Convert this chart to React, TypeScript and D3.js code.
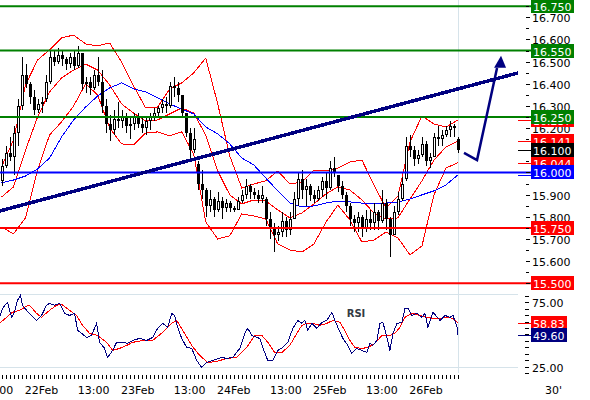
import React from 'react';
import * as d3 from 'd3';

// ---- OHLC bars (hourly, index 0 = 21Feb 14:00) ----
const opens = [15.96,16.03,16.09,16.07,16.18,16.30,16.44,16.40,16.34,16.28,16.31,16.33,16.41,16.52,16.50,16.53,16.51,16.49,16.52,16.48,16.54,16.40,16.41,16.38,16.44,16.41,16.30,16.22,16.19,16.24,16.23,16.25,16.21,16.22,16.25,16.22,16.20,16.23,16.25,16.27,16.29,16.31,16.30,16.39,16.38,16.35,16.27,16.18,16.10,16.04,15.95,15.92,15.85,15.88,15.83,15.87,15.84,15.86,15.84,15.83,15.87,15.90,15.94,15.91,15.90,15.88,15.88,15.79,15.75,15.72,15.73,15.78,15.74,15.79,15.88,15.97,15.92,15.94,15.90,15.88,15.92,15.96,15.93,16.02,15.99,15.94,15.90,15.85,15.79,15.77,15.80,15.75,15.79,15.77,15.82,15.78,15.86,15.79,15.72,15.82,15.88,15.97,16.12,16.10,16.06,16.08,16.13,16.05,16.07,16.16,16.15,16.17,16.19,16.21,16.15];
const highs = [16.06,16.12,16.16,16.21,16.33,16.52,16.49,16.41,16.37,16.33,16.34,16.44,16.55,16.55,16.56,16.55,16.52,16.54,16.55,16.57,16.54,16.43,16.43,16.46,16.52,16.46,16.33,16.26,16.28,16.32,16.28,16.27,16.25,16.27,16.27,16.25,16.25,16.27,16.29,16.30,16.33,16.34,16.41,16.43,16.41,16.35,16.27,16.20,16.20,16.05,16.01,15.93,15.92,15.89,15.91,15.89,15.88,15.87,15.85,15.89,15.92,15.97,15.95,15.93,15.92,15.94,15.89,15.82,15.77,15.76,15.82,15.80,15.82,15.91,16.00,16.01,15.97,15.95,15.92,15.94,15.98,16.00,16.05,16.07,15.99,15.96,15.91,15.86,15.81,15.82,15.81,15.83,15.83,15.86,15.83,15.92,15.88,15.80,15.85,15.91,15.98,16.16,16.17,16.12,16.10,16.16,16.14,16.09,16.18,16.21,16.19,16.21,16.23,16.22,16.16];
const lows = [15.94,16.02,16.05,15.99,16.12,16.28,16.38,16.31,16.26,16.27,16.27,16.32,16.40,16.48,16.49,16.48,16.46,16.47,16.46,16.47,16.37,16.36,16.35,16.37,16.39,16.27,16.18,16.14,16.17,16.20,16.20,16.18,16.15,16.19,16.20,16.18,16.17,16.19,16.23,16.25,16.27,16.27,16.29,16.34,16.32,16.25,16.16,16.06,16.09,15.92,15.88,15.80,15.82,15.80,15.82,15.79,15.82,15.82,15.82,15.83,15.86,15.88,15.88,15.88,15.86,15.86,15.76,15.70,15.64,15.69,15.71,15.71,15.72,15.79,15.85,15.88,15.85,15.87,15.86,15.87,15.89,15.88,15.92,15.98,15.91,15.88,15.82,15.76,15.73,15.73,15.71,15.73,15.74,15.74,15.74,15.77,15.74,15.62,15.72,15.81,15.87,15.96,16.07,16.03,16.04,16.07,16.03,16.02,16.07,16.12,16.12,16.16,16.16,16.16,16.09];
const closes = [16.03,16.09,16.07,16.18,16.30,16.44,16.40,16.34,16.28,16.31,16.32,16.41,16.52,16.50,16.53,16.51,16.49,16.52,16.48,16.54,16.40,16.41,16.38,16.44,16.41,16.30,16.22,16.19,16.24,16.23,16.25,16.21,16.22,16.25,16.22,16.20,16.23,16.25,16.27,16.29,16.31,16.30,16.39,16.38,16.35,16.27,16.18,16.10,16.15,15.95,15.92,15.85,15.88,15.83,15.87,15.84,15.86,15.84,15.83,15.87,15.90,15.94,15.91,15.90,15.88,15.90,15.79,15.75,15.72,15.73,15.78,15.74,15.79,15.88,15.97,15.92,15.94,15.90,15.88,15.92,15.96,15.93,16.02,16.00,15.94,15.90,15.85,15.79,15.77,15.80,15.75,15.79,15.77,15.82,15.78,15.86,15.79,15.72,15.82,15.88,15.95,16.12,16.10,16.06,16.08,16.13,16.05,16.07,16.16,16.15,16.17,16.19,16.21,16.20,16.10];

// ---- Bollinger bands & moving average, read at these bar indices ----
const bandIdx = [0,3,6,9,12,15,18,21,24,27,30,33,36,39,42,45,48,51,54,57,60,63,66,69,72,75,78,81,84,87,90,93,96,99,102,105,108,111,114];
const bbUpper = [16.025,16.147,16.395,16.507,16.553,16.607,16.620,16.580,16.571,16.584,16.498,16.390,16.291,16.295,16.377,16.404,16.449,16.516,16.309,16.074,15.930,15.948,15.962,16.007,15.948,15.957,16.011,16.007,16.020,16.047,16.056,15.944,15.840,15.894,16.138,16.255,16.219,16.205,16.237];
const bbMiddle = [15.889,15.935,16.101,16.250,16.363,16.426,16.462,16.489,16.462,16.395,16.309,16.268,16.232,16.237,16.264,16.291,16.268,16.169,16.007,15.899,15.858,15.876,15.871,15.831,15.795,15.817,15.858,15.903,15.935,15.921,15.876,15.817,15.790,15.795,15.880,15.962,16.056,16.115,16.141];
const bbLower = [15.754,15.723,15.795,16.011,16.169,16.228,16.300,16.399,16.350,16.201,16.129,16.124,16.178,16.183,16.165,16.183,16.083,15.777,15.700,15.714,15.813,15.804,15.790,15.677,15.650,15.641,15.677,15.775,15.853,15.786,15.686,15.695,15.731,15.705,15.628,15.668,15.899,16.020,16.044];
const maBlue = [15.953,15.966,15.984,16.016,16.065,16.160,16.237,16.295,16.345,16.381,16.404,16.377,16.363,16.336,16.309,16.286,16.264,16.205,16.174,16.129,16.065,16.034,15.975,15.917,15.862,15.844,15.849,15.862,15.871,15.867,15.862,15.862,15.862,15.867,15.880,15.899,15.917,15.944,15.989];

// ---- RSI (blue) and its signal (red) ----
const rsiT = [-0.5,0.25,1.5,2.5,3.25,4,4.75,5.25,6.25,7.5,8.75,10,11.25,12,13.25,14.5,15.75,17,18.25,19,20,21.25,22.5,23.75,24.5,25.75,26.5,27.75,28.75,30.25,31.5,32.75,34.5,36.25,37.75,39,40.25,41.5,42.5,43.25,44,45,46.25,47.5,48.75,50,51.25,52.75,55,56.25,57.75,59.5,60.75,61.5,62.5,63.75,64.5,65.25,66.5,67.75,69,70.25,71.5,72.75,74,75,75.75,76.5,77.5,78.75,80,81.25,82.5,83.25,84,85.25,86.5,87.5,88.75,90,91.25,92,92.75,93.75,94.5,95.25,96.25,97,97.75,98.75,100,100.75,101.5,102.5,103.75,105,105.75,106.5,107.75,109.5,110.75,112,112.75,113.75,114];
const rsiV = [63.3,70.3,75,63.3,67.2,76.6,80.5,72.7,68.8,64.8,60.9,64.8,72.7,74.2,72.7,74.2,66.4,64.8,66.4,53.1,50.8,47.6,49.2,58.6,43.8,39.1,32,37.5,43.8,43.8,43,45.3,46.9,45.3,47.6,54.7,58.6,55.5,66.4,64.8,55.5,46.9,39.8,39.1,29.7,24.2,28.1,29.7,32,31.3,32,39.1,50.8,54.7,49.2,47.6,46.9,39.8,29.7,29.7,37.5,39.8,43.8,54.7,60.9,58.6,60.9,53.1,58.6,54.7,59.4,60.9,67.2,60.9,55.5,46.9,41.4,35.2,39.1,37.5,35.9,43,41.4,45.3,58.6,59.4,47.7,37.5,50.8,58.6,59.4,70.3,70.3,64.8,66.4,63.3,66.4,55.5,67.2,60.9,64.8,63.3,64.8,55.5,49.6];
const sigT = [-0.5,1.25,2.75,4.5,6.25,7,8.75,10,12,13.75,15,17,18.75,20.25,22,24,26.25,27.75,29.5,31.25,32.75,35.25,37.75,40.25,42.5,43.75,45.25,47.5,49.5,51.5,53.75,56.25,58.75,61.25,63.25,65,66.5,68.25,70,72,73.75,75,76.25,77.75,79.5,81.25,82.75,84.5,85.75,87,88.25,90,91.5,93.25,95,97,98.25,99.5,100.75,102.5,104.5,106.25,107.75,109.5,111.25,112.75,114];
const sigV = [58.6,63.3,67.2,68.8,71.9,72.7,66.4,63.3,68.8,72.7,73.4,68.8,64.8,57,50.8,49.2,43.8,37.5,39.1,41.4,43.8,45.3,45.3,51.6,58.6,60.9,53.1,41.4,33.6,28.1,28.9,31.3,32,39.8,49.2,49.2,43.8,35.9,35.9,41.4,50.8,57,58.6,58.6,57,58.6,60.9,59.4,53.1,45.3,39.8,39.1,39.8,43,49.2,49.2,50.8,55.5,63.3,66.4,64.8,63.3,62.5,62.5,63.3,62.5,58.83];

// ---- levels, annotations, axes ----
const greenLevels = [16.75, 16.55, 16.25];
const blueLevels = [16.0];
const redLevels = [15.75, 15.5];
const trendIdx = [-0.5, 129];
const trendVal = [15.826, 16.449];
const arrowIdx = [115.5, 118.75, 123.75];
const arrowVal = [16.088, 16.056, 16.471];
const arrowTip = { i: 124.75, v: 16.526 };
const priceTickLabels = [16.7, 16.6, 16.5, 16.4, 16.3, 16.2, 16.1, 16.0, 15.9, 15.8, 15.7, 15.6, 15.5];
const rsiTickLabels = [75, 25];
const rsiGuides = [81.5, 25];
const timeLabelIdx = [-1, 10, 23, 34, 47, 58, 71, 82, 95, 106];
const timeLabels = ['13:00', '22Feb', '13:00', '23Feb', '13:00', '24Feb', '13:00', '25Feb', '13:00', '26Feb'];

const FONT = 'DejaVu Sans, Verdana, sans-serif';

export default function App() {
  const W = 590, H = 400;
  const n = closes.length;
  const x = d3.scaleLinear().domain([0, n - 1]).range([1.5, 458]);
  const y = d3.scaleLinear().domain([15.5, 16.75]).range([283.3, 6.2]);
  const ry = d3.scaleLinear().domain([25, 75]).range([366.5, 302.3]);

  const bandLine = (vals: number[]) =>
    d3.line<number>().x((_, k) => x(bandIdx[k])).y((v) => y(v))(vals) || '';
  const rsiLine = (ts: number[], vs: number[]) =>
    d3.line<number>().x((t) => x(t)).y((_, k) => ry(vs[k]))(ts) || '';

  const priceTicks = d3.range(0, 26).map((k) => 15.5 + k * 0.05);
  const rsiTicks = d3.range(20, 81, 5);

  const box = (v: number, color: string, text: string, key: string, sc = y, w = 43) => (
    <g key={key}>
      <rect x={531} y={Math.round(sc(v)) - 7} width={w} height={14} fill={color} />
      <text x={533} y={Math.round(sc(v)) + 5} fill="#fff" fontSize={11} fontFamily={FONT}>{text}</text>
    </g>
  );
  const marker = (v: number, color: string, key: string, sc = y) => (
    <line key={key} x1={518} x2={531} y1={Math.round(sc(v)) + 0.5} y2={Math.round(sc(v)) + 0.5} stroke={color} strokeWidth={1} />
  );

  const lastUpper = bbUpper[bbUpper.length - 1];
  const lastMid = bbMiddle[bbMiddle.length - 1];
  const lastLow = bbLower[bbLower.length - 1];
  const lastMA = maBlue[maBlue.length - 1];
  const lastClose = closes[n - 1];
  const lastRsi = rsiV[rsiV.length - 1];
  const lastSig = sigV[sigV.length - 1];

  const arrowPts = arrowIdx.map((t, k) => [x(t), y(arrowVal[k])] as [number, number]);
  const tipX = x(arrowTip.i), tipY = y(arrowTip.v);

  return (
    <div style={{ position: 'absolute', left: 0, top: 0 }}>
      <svg width={W} height={H} style={{ display: 'block', background: '#fff' }}>
        {/* last bar vertical guide */}
        <line x1={458.5} x2={458.5} y1={0} y2={373} stroke="#d6e3ea" strokeWidth={1} />
        {/* RSI guides */}
        {rsiGuides.map((g, k) => (
          <line key={'rg' + k} x1={0} x2={518} y1={Math.round(ry(g)) + 0.5} y2={Math.round(ry(g)) + 0.5} stroke="#d6e3ea" strokeWidth={1} />
        ))}

        {/* Bollinger bands & MA */}
        {[bbUpper, bbMiddle, bbLower].map((b, k) => (
          <path key={'bb' + k} d={bandLine(b)} fill="none" stroke="#ff0000" strokeWidth={1} shapeRendering="crispEdges" />
        ))}
        <path d={bandLine(maBlue)} fill="none" stroke="#0000ff" strokeWidth={1} shapeRendering="crispEdges" />

        {/* candles */}
        {closes.map((c, i) => {
          const cx = Math.round(x(i));
          const o = opens[i];
          const top = Math.round(y(Math.max(o, c)));
          const bot = Math.round(y(Math.min(o, c)));
          const hgt = Math.max(1, bot - top);
          return (
            <g key={'c' + i}>
              <rect x={cx} y={Math.round(y(highs[i]))} width={1} height={Math.max(1, Math.round(y(lows[i])) - Math.round(y(highs[i])))} fill="#000" />
              <rect x={cx - 1} y={top} width={3} height={hgt} fill="#000" />
              {c > o && hgt > 2 && <rect x={cx} y={top + 1} width={1} height={hgt - 2} fill="#fff" />}
            </g>
          );
        })}

        {/* horizontal levels */}
        {greenLevels.map((v, k) => (
          <line key={'gl' + k} x1={0} x2={531} y1={y(v)} y2={y(v)} stroke="#008000" strokeWidth={2} />
        ))}
        {blueLevels.map((v, k) => (
          <line key={'bl' + k} x1={0} x2={531} y1={y(v)} y2={y(v)} stroke="#0000ff" strokeWidth={2} />
        ))}
        {redLevels.map((v, k) => (
          <line key={'rl' + k} x1={0} x2={531} y1={y(v)} y2={y(v)} stroke="#ff0000" strokeWidth={2} />
        ))}

        {/* trend line */}
        <line x1={x(trendIdx[0])} y1={y(trendVal[0])} x2={x(trendIdx[1])} y2={y(trendVal[1])} stroke="#000080" strokeWidth={3.5} shapeRendering="crispEdges" />
        {/* arrow */}
        <polyline points={arrowPts.map((p) => p.join(',')).join(' ')} fill="none" stroke="#000080" strokeWidth={2.5} strokeLinejoin="miter" />
        <polygon points={`${tipX},${tipY} ${tipX - 7},${tipY + 12} ${tipX + 5},${tipY + 12}`} fill="#000080" />

        {/* RSI lines */}
        <path d={rsiLine(sigT, sigV)} fill="none" stroke="#ff0000" strokeWidth={1} shapeRendering="crispEdges" />
        <path d={rsiLine(rsiT, rsiV)} fill="none" stroke="#000080" strokeWidth={1} shapeRendering="crispEdges" />
        <text x={356} y={317} textAnchor="middle" fontSize={10} fontWeight="bold" fill="#333a44" fontFamily={FONT}>RSI</text>

        {/* price axis ticks + labels */}
        {priceTicks.map((v, k) => (
          <line key={'pt' + k} x1={526} x2={k % 2 === 0 ? 530 : 529} y1={Math.round(y(v)) + 0.5} y2={Math.round(y(v)) + 0.5} stroke="#000" strokeWidth={1} />
        ))}
        {priceTickLabels.map((v, k) => (
          <text key={'pl' + k} x={532} y={Math.round(y(v)) + 5} fontSize={11} fontFamily={FONT} fill="#000">{v.toFixed(3)}</text>
        ))}
        {/* RSI axis */}
        {rsiTicks.map((v, k) => (
          <line key={'rt' + k} x1={525} x2={529} y1={Math.round(ry(v)) + 0.5} y2={Math.round(ry(v)) + 0.5} stroke="#000" strokeWidth={1} />
        ))}
        {rsiTickLabels.map((v, k) => (
          <text key={'rl2' + k} x={532} y={Math.round(ry(v)) + 5} fontSize={11} fontFamily={FONT} fill="#000">{v.toFixed(2)}</text>
        ))}

        {/* value markers & boxes */}
        {marker(lastUpper, '#ff0000', 'mU')}
        {box(lastUpper, '#ff0000', lastUpper.toFixed(3), 'bU')}
        {greenLevels.map((v, k) => box(v, '#008000', v.toFixed(3), 'gb' + k))}
        {marker(lastMid, '#ff0000', 'mM')}
        {box(lastMid, '#ff0000', lastMid.toFixed(3), 'bM')}
        {marker(lastLow, '#ff0000', 'mL')}
        {box(lastLow, '#ff0000', lastLow.toFixed(3), 'bL')}
        {marker(lastClose, '#000', 'mC')}
        {box(lastClose, '#000', lastClose.toFixed(3), 'bC')}
        {marker(lastMA, '#0000ff', 'mA')}
        {blueLevels.map((v, k) => box(v, '#0000ff', v.toFixed(3), 'bb' + k))}
        {redLevels.map((v, k) => box(v, '#ff0000', v.toFixed(3), 'rb' + k))}
        {marker(lastSig, '#ff0000', 'mS', ry)}
        {box(lastSig, '#ff0000', lastSig.toFixed(2), 'bS', ry, 36)}
        {marker(lastRsi, '#000080', 'mR', ry)}
        {box(lastRsi, '#000080', lastRsi.toFixed(2), 'bR', ry, 36)}

        {/* time axis */}
        {closes.map((_, i) => (
          <line key={'tt' + i} x1={Math.round(x(i)) + 0.5} x2={Math.round(x(i)) + 0.5} y1={375} y2={379} stroke="#000" strokeWidth={1} />
        ))}
        {timeLabelIdx.map((t, k) => (
          <text key={'tl' + k} x={x(t)} y={394} textAnchor="middle" fontSize={11} fontFamily={FONT} fill="#000">{timeLabels[k]}</text>
        ))}
        <text x={545} y={394} fontSize={11} fontFamily={FONT} fill="#000">30'</text>
      </svg>
    </div>
  );
}
